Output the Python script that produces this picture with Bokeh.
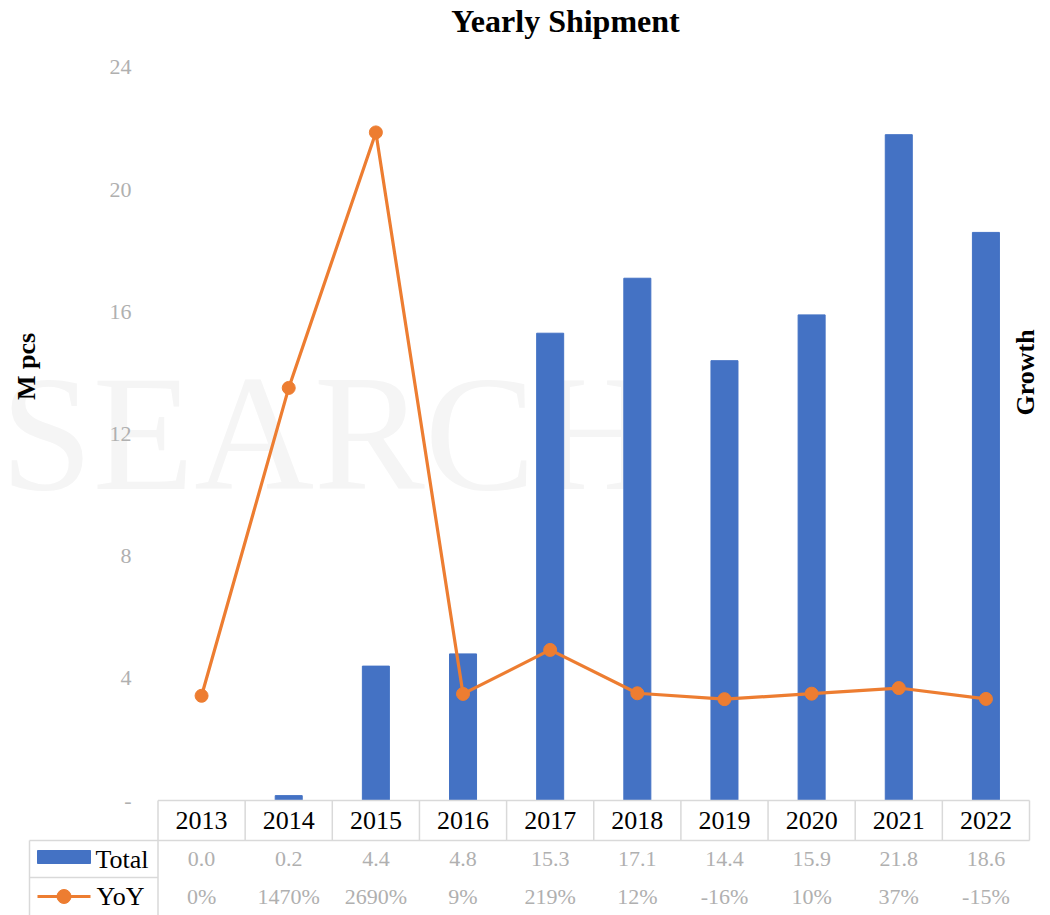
import math
from bokeh.plotting import figure
from bokeh.models import Range1d, Label
from bokeh.core.properties import value
from bokeh.embed import file_html
from bokeh.resources import INLINE

# ---------------- data ----------------
years = ["2013", "2014", "2015", "2016", "2017", "2018", "2019", "2020", "2021", "2022"]
total_mpcs = [0.0, 0.16, 4.4, 4.8, 15.3, 17.1, 14.4, 15.9, 21.8, 18.6]
yoy_pct = [0, 1470, 2690, 9, 219, 12, -16, 10, 37, -15]
total_labels = ["0.0", "0.2", "4.4", "4.8", "15.3", "17.1", "14.4", "15.9", "21.8", "18.6"]
yoy_labels = ["0%", "1470%", "2690%", "9%", "219%", "12%", "-16%", "10%", "37%", "-15%"]
left_ticks = [0, 4, 8, 12, 16, 20, 24]
left_tick_labels = ["-", "4", "8", "12", "16", "20", "24"]
series_names = ["Total", "YoY"]

# ---------------- style ----------------
FONT = "Liberation Serif"
SERIF = value(FONT)
BLUE = "#4472C4"
ORANGE = "#ED7D31"
GRID = "#D9D9D9"
FADED = "#B0B0B0"

W, H = 1050, 915
BAND = 87.15            # px per category
UNIT = 30.542           # px per left-axis unit
X0 = -0.5 - 157.5 / BAND
X1 = -0.5 + (W - 157.5) / BAND
Y1 = 800 / UNIT
Y0 = -(H - 800) / UNIT
PCT_PER_UNIT = 3500 / 24.0
R0, R1 = -500 + Y0 * PCT_PER_UNIT, -500 + Y1 * PCT_PER_UNIT

p = figure(width=W, height=H, output_backend="svg", toolbar_location=None,
           x_range=Range1d(X0, X1), y_range=Range1d(Y0, Y1),
           x_axis_type=None, y_axis_type=None,
           min_border_left=0, min_border_right=0, min_border_top=0, min_border_bottom=0)
p.outline_line_color = None
p.background_fill_color = "white"
p.border_fill_color = "white"
p.extra_y_ranges = {"yoy": Range1d(R0, R1)}

idx = list(range(len(years)))

def px_x(px):
    return -0.5 + (px - 157.5) / BAND

def px_y(py):
    return (800 - py) / UNIT

# watermark
p.add_layout(Label(x=px_x(0), y=px_y(432), text="SEARCH", text_font=FONT, text_font_size="166px",
                   text_color="#F5F5F5", text_align="left", text_baseline="middle",
                   level="underlay"))

# bars
p.vbar(x=idx, top=total_mpcs, bottom=0, width=0.31, fill_color=BLUE, line_color=BLUE)

# growth line
p.line(x=idx, y=yoy_pct, y_range_name="yoy", line_color=ORANGE, line_width=3.2)
p.scatter(x=idx, y=yoy_pct, y_range_name="yoy", size=13, fill_color=ORANGE, line_color=ORANGE)

# left tick labels (faded like reference)
p.text(x=[px_x(131)] * len(left_ticks), y=left_ticks, text=left_tick_labels,
       text_font=SERIF, text_font_size=value("22px"), text_color=FADED,
       text_align="right", text_baseline="middle")

# ---------------- data table ----------------
row_edges = [0.0, px_y(840), px_y(877), Y0]
hdr_c = (row_edges[0] + row_edges[1]) / 2
tot_c = (row_edges[1] + row_edges[2]) / 2
yoy_c = (row_edges[2] + row_edges[3]) / 2
band_edges = [i - 0.5 for i in range(len(years) + 1)]
left_edge = px_x(29)

# horizontal lines
p.segment(x0=[-0.5, left_edge, left_edge], y0=[row_edges[0], row_edges[1], row_edges[2]],
          x1=[9.5, 9.5, -0.5], y1=[row_edges[0], row_edges[1], row_edges[2]],
          line_color=GRID, line_width=1.5)
# vertical lines in header
p.segment(x0=band_edges, y0=[row_edges[0]] * len(band_edges),
          x1=band_edges, y1=[row_edges[1]] * len(band_edges),
          line_color=GRID, line_width=1.5)
# vertical lines for legend cells
p.segment(x0=[left_edge, -0.5], y0=[row_edges[1]] * 2, x1=[left_edge, -0.5], y1=[row_edges[3]] * 2,
          line_color=GRID, line_width=1.5)

# header years
p.text(x=idx, y=[hdr_c] * len(idx), text=years, text_font=SERIF, text_font_size=value("26px"),
       text_color="black", text_align="center", text_baseline="middle")
# values rows (faded)
p.text(x=idx, y=[tot_c] * len(idx), text=total_labels, text_font=SERIF, text_font_size=value("22px"),
       text_color=FADED, text_align="center", text_baseline="middle")
p.text(x=idx, y=[yoy_c] * len(idx), text=yoy_labels, text_font=SERIF, text_font_size=value("22px"),
       text_color=FADED, text_align="center", text_baseline="middle")

# legend keys in table
key_l, key_r = px_x(37), px_x(90)
key_c = (key_l + key_r) / 2
p.quad(left=[key_l], right=[key_r], top=[px_y(850)], bottom=[px_y(863)], fill_color=BLUE, line_color=BLUE)
p.segment(x0=[key_l], y0=[yoy_c], x1=[key_r], y1=[yoy_c], line_color=ORANGE, line_width=3.2)
p.scatter(x=[key_c], y=[yoy_c], size=14, fill_color=ORANGE, line_color=ORANGE)
p.text(x=[px_x(95), px_x(96)], y=[tot_c, yoy_c], text=series_names, text_font=SERIF,
       text_font_size=value("26px"), text_color="black", text_align="left", text_baseline="middle")

# ---------------- titles ----------------
p.add_layout(Label(x=px_x(565), y=px_y(20), text="Yearly Shipment", text_font=FONT, text_font_size="32px",
                   text_font_style="bold", text_color="black", text_align="center", text_baseline="middle"))
p.add_layout(Label(x=px_x(26), y=px_y(366), text="M pcs", text_font=FONT, text_font_size="26px",
                   text_font_style="bold", text_color="black", text_align="center", text_baseline="middle",
                   angle=math.pi / 2))
p.add_layout(Label(x=px_x(1025), y=px_y(372), text="Growth", text_font=FONT, text_font_size="26px",
                   text_font_style="bold", text_color="black", text_align="center", text_baseline="middle",
                   angle=math.pi / 2))

open("out.html", "w").write(file_html(p, INLINE))
